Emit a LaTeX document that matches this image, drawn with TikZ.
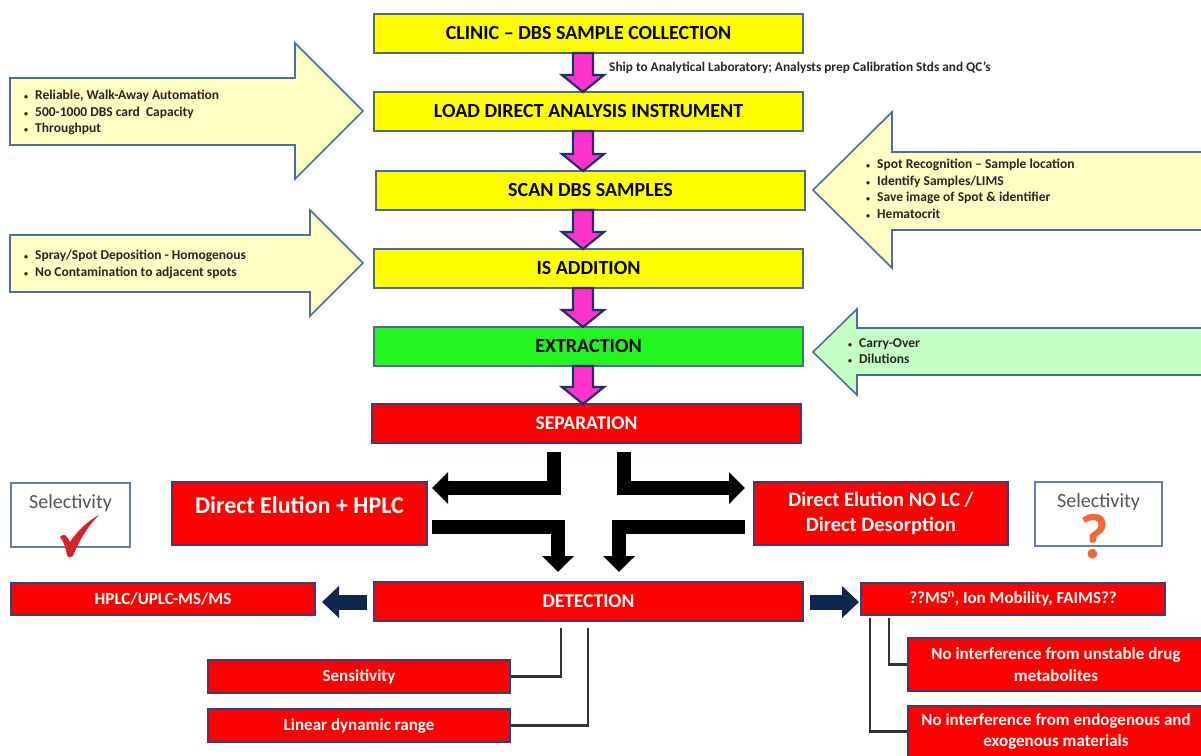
\documentclass[tikz,border=0pt]{standalone}
\usepackage{fontspec}
\setmainfont{Carlito}
\usetikzlibrary{arrows.meta,calc}
\definecolor{yfill}{HTML}{FFFF00}
\definecolor{yedge}{HTML}{4F6A8C}
\definecolor{rfill}{HTML}{FF0000}
\definecolor{redge}{HTML}{35407A}
\definecolor{gfill}{HTML}{22F522}
\definecolor{cfill}{HTML}{FFFFC4}
\definecolor{cgfill}{HTML}{C4FFC4}
\definecolor{cedge}{HTML}{4A6E9E}
\definecolor{pink}{HTML}{FF33CC}
\definecolor{pedge}{HTML}{1F2F6A}
\definecolor{navyf}{HTML}{0E2650}
\definecolor{conn}{HTML}{333333}
\definecolor{seltxt}{HTML}{555555}
\definecolor{selbord}{HTML}{6A7CA8}
\definecolor{qmark}{HTML}{F2683A}
\definecolor{chk}{HTML}{D8222A}
\newcommand\bul{\makebox[11pt][l]{\fontsize{8}{8}\selectfont•}}
\newcommand\pinkarr[2]{\draw[pinkarrow] (573,#1) -- (593,#1) -- (593,{#2-17}) -- (604,{#2-17}) -- (583,#2) -- (562,{#2-17}) -- (573,{#2-17}) -- cycle;}
\begin{document}
\begin{tikzpicture}[x=1pt,y=-1pt,
  base/.style={draw, line width=1.2pt, inner sep=0pt, align=center},
  ybox/.style={base, fill=yfill, draw=yedge, minimum width=429pt, minimum height=39pt, font=\bfseries\fontsize{20}{24}\selectfont},
  gbox/.style={ybox, fill=gfill},
  rbox/.style={base, fill=rfill, draw=redge, text=white, minimum width=429pt, minimum height=39pt, font=\bfseries\fontsize{19.5}{23}\selectfont},
  rsmall/.style={base, fill=rfill, draw=redge, text=white, font=\bfseries\fontsize{17}{21.5}\selectfont},
  selbox/.style={base, fill=white, draw=selbord},
  seltext/.style={inner sep=0pt, text=seltxt, font=\fontsize{20}{24}\selectfont},
  callout/.style={draw=cedge, fill=cfill, line width=1.6pt, line join=miter},
  ctext/.style={anchor=north west, inner sep=0pt, align=left, text=black!85, font=\bfseries\fontsize{13.5}{16.6}\selectfont},
  pinkarrow/.style={fill=pink, draw=pedge, line width=2.2pt, line join=miter},
  blk/.style={line width=14pt, draw=black, line join=miter, -{Triangle[length=16pt,width=31pt]}},
  navarr/.style={line width=15pt, draw=navyf, -{Triangle[length=17pt,width=31pt]}},
  connline/.style={draw=conn, line width=2.4pt},
]
\useasboundingbox (0,0) rectangle (1201,755);
\fill[white] (0,0) rectangle (1201,755);

% callout arrows
\draw[callout] (10,78) -- (295,78) -- (295,43) -- (363,111) -- (295,179) -- (295,145) -- (10,145) -- cycle;
\node[ctext] (c1) at (24,90) {\bul Reliable, Walk-Away Automation\\\bul 500-1000 DBS card\ \ Capacity\\\bul Throughput};
\draw[callout] (10,235) -- (310,235) -- (310,210) -- (363,263) -- (310,316) -- (310,292) -- (10,292) -- cycle;
\node[ctext] (c3) at (24,250) {\bul Spray/Spot Deposition - Homogenous\\\bul No Contamination to adjacent spots};
\draw[callout] (1206,152) -- (892,152) -- (892,112) -- (813,190) -- (892,268) -- (892,230) -- (1206,230) -- cycle;
\node[ctext] (c2) at (866,159) {\bul Spot Recognition – Sample location\\\bul Identify Samples/LIMS\\\bul Save image of Spot \& identifier\\\bul Hematocrit};
\draw[callout, fill=cgfill] (1206,328) -- (857,328) -- (857,309) -- (813,352) -- (857,395) -- (857,375) -- (1206,375) -- cycle;
\node[ctext] (c4) at (848,338) {\bul Carry-Over\\\bul Dilutions};

% main column
\node[ybox] (clinic) at (588.5,33.5) {CLINIC – DBS SAMPLE COLLECTION};
\node[ybox] (load) at (588.5,111.5) {LOAD DIRECT ANALYSIS INSTRUMENT};
\node[ybox] (scan) at (590.5,190.5) {SCAN DBS SAMPLES};
\node[ybox] (isadd) at (588.5,268.5) {IS ADDITION};
\node[gbox] (extr) at (588.5,346.5) {EXTRACTION};
\node[rbox] (sep) at (586.5,423.5) {SEPARATION};

\pinkarr{53}{92}
\pinkarr{131}{171}
\pinkarr{210}{249}
\pinkarr{288}{327}
\pinkarr{366}{404}

\node[anchor=west, inner sep=0pt, text=black!85, font=\bfseries\fontsize{13.3}{15}\selectfont] (ship) at (609,68) {Ship to Analytical Laboratory; Analysts prep Calibration Stds and QC's};

% second row
\node[rbox, minimum width=255pt, minimum height=63pt, font=\bfseries\fontsize{24}{28}\selectfont, text height=17pt, text depth=18pt] (deh) at (299.5,513.5) {Direct Elution + HPLC};
\node[rbox, minimum width=254pt, minimum height=63pt, font=\bfseries\fontsize{20.5}{25}\selectfont] (denolc) at (881,513.5) {Direct Elution NO LC /\\Direct Desorption};
\node[selbox, minimum width=119pt, minimum height=64pt] (sell) at (70.5,515) {};
\node[seltext] (sellt) at (70.5,503) {Selectivity};
\node[selbox, minimum width=127pt, minimum height=64pt] (selr) at (1098.5,514) {};
\node[seltext] (selrt) at (1098.5,502) {Selectivity};
\fill[chk] (60,537) .. controls (64,532) and (67,536) .. (70,542) .. controls (78,530) and (88,521) .. (99,515) .. controls (90,524) and (80,538) .. (73,556) .. controls (71,558) and (68,558) .. (67,555) .. controls (66,549) and (64,542) .. cycle;
\node[text=qmark, inner sep=0pt, font=\bfseries\fontsize{64}{68}\selectfont] (qm) at (1094,537) {?};

% black arrows
\coordinate (b1s) at (554,452); \coordinate (b1e) at (432,488);
\coordinate (b2s) at (624,452); \coordinate (b2e) at (745,488);
\coordinate (b3s) at (432,527); \coordinate (b3e) at (558,572);
\coordinate (b4s) at (745,527); \coordinate (b4e) at (619,572);
\draw[blk] (b1s) |- (b1e);
\draw[blk] (b2s) |- (b2e);
\draw[blk] (b3s) -| (b3e);
\draw[blk] (b4s) -| (b4e);

% detection row
\node[rbox] (det) at (588.5,601.5) {DETECTION};
\node[rsmall, minimum width=304pt, minimum height=32pt] (hplcms) at (163,599) {HPLC/UPLC-MS/MS};
\node[rsmall, minimum width=304pt, minimum height=32pt] (msn) at (1013,599) {??MS\textsuperscript{n}, Ion Mobility, FAIMS??};
\coordinate (n1s) at (367,602); \coordinate (n1e) at (322,602);
\coordinate (n2s) at (810,602); \coordinate (n2e) at (859,602);
\draw[navarr] (n1s) -- (n1e);
\draw[navarr] (n2s) -- (n2e);

% bottom boxes
\node[rsmall, minimum width=302pt, minimum height=33pt] (sens) at (359,676.5) {Sensitivity};
\node[rsmall, minimum width=302pt, minimum height=33pt] (ldr) at (359,725.5) {Linear dynamic range};
\node[rsmall, minimum width=296pt, minimum height=53pt] (unst) at (1056,664.5) {No interference from unstable drug\\metabolites};
\node[rsmall, minimum width=296pt, minimum height=51pt] (endo) at (1056,731.5) {No interference from endogenous and\\exogenous materials};

\coordinate (d1) at (561,628); \coordinate (d2) at (588,628);
\coordinate (m1) at (889,618); \coordinate (m2) at (870,618);
\draw[connline] (d1) |- (sens.east);
\draw[connline] (d2) |- (ldr.east);
\draw[connline] (m1) |- (unst.west);
\draw[connline] (m2) |- (endo.west);
\end{tikzpicture}
\end{document}
